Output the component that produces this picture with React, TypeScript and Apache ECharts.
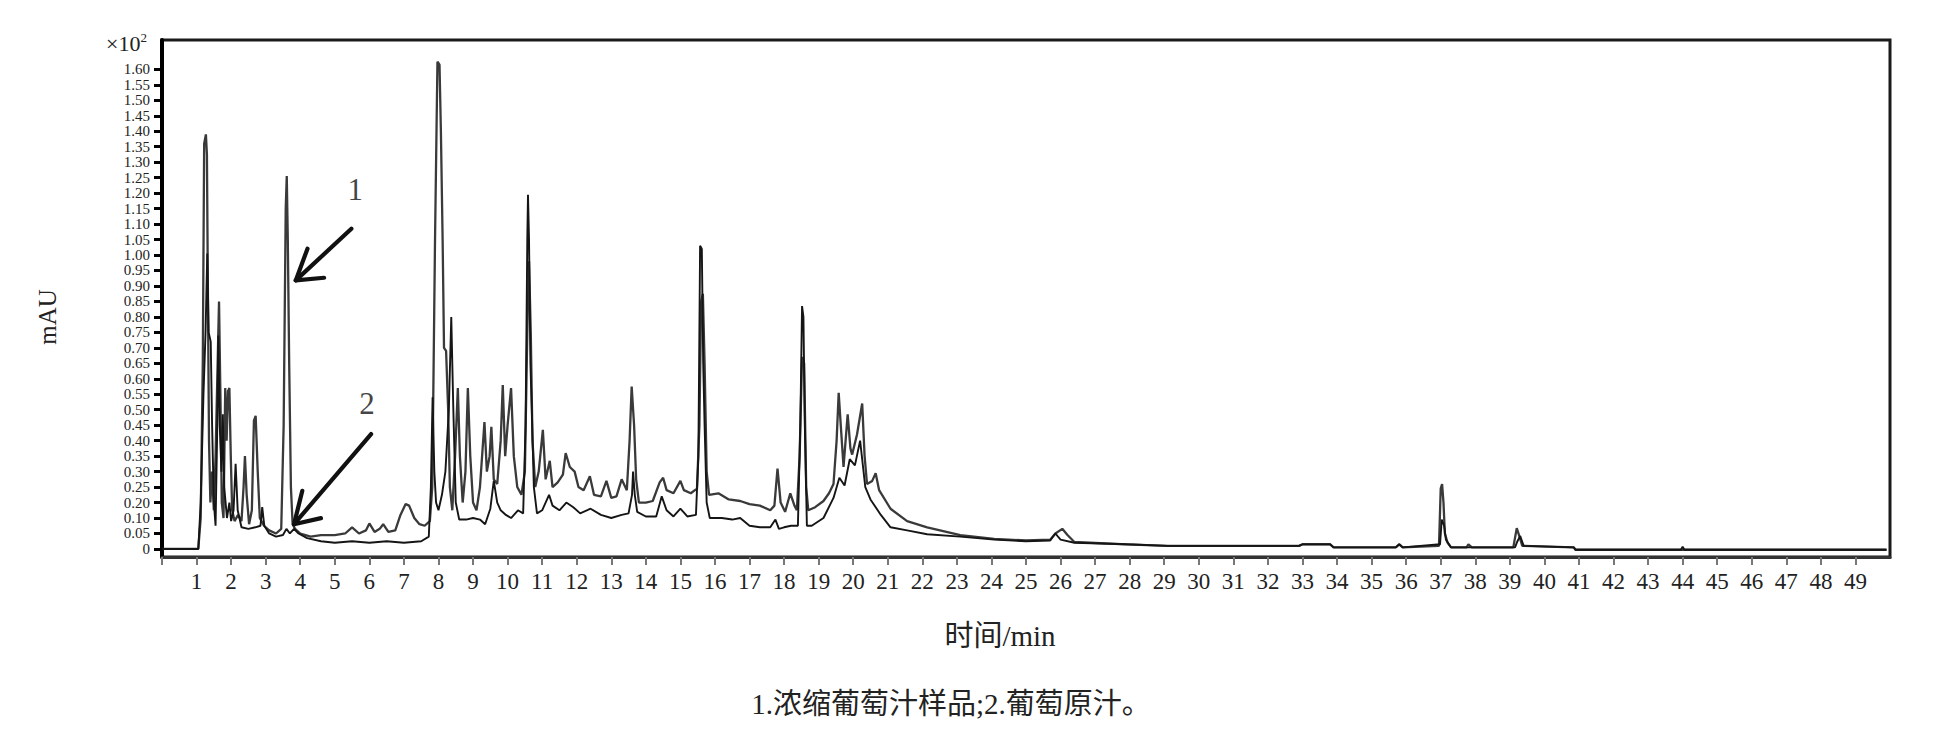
import React, { useEffect, useRef } from "react";
import * as echarts from "echarts";

// Y tick labels exactly as printed on the original axis (note: 0.15 is absent, ticks evenly spaced)
const Y_TICK_LABELS = [
  "0", "0.05", "0.10", "0.20", "0.25", "0.30", "0.35", "0.40", "0.45", "0.50",
  "0.55", "0.60", "0.65", "0.70", "0.75", "0.80", "0.85", "0.90", "0.95", "1.00",
  "1.05", "1.10", "1.15", "1.20", "1.25", "1.30", "1.35", "1.40", "1.45", "1.50",
  "1.55", "1.60",
];
// X tick labels (min)
const X_TICK_LABELS = [
  1, 2, 3, 4, 5, 6, 7, 8, 9, 10, 11, 12, 13, 14, 15, 16, 17, 18, 19, 20,
  21, 22, 23, 24, 25, 26, 27, 28, 29, 30, 31, 32, 33, 34, 35, 36, 37, 38, 39, 40,
  41, 42, 43, 44, 45, 46, 47, 48, 49,
];

// Traces: [time (min), signal in y-tick steps]
const TRACE_SAMPLE = [
  [0, 0], [1.05, 0], [1.12, 2], [1.18, 12], [1.22, 26.2], [1.27, 26.8], [1.3, 25.5], [1.33, 16], [1.36, 7], [1.4, 3],
  [1.45, 5], [1.5, 2.5], [1.55, 6], [1.62, 13], [1.65, 16], [1.69, 10], [1.73, 3], [1.78, 2], [1.83, 10.4], [1.87, 7],
  [1.91, 10.2], [1.95, 10.4], [1.99, 6], [2.03, 2.5], [2.1, 1.8], [2.2, 2.2], [2.3, 1.8], [2.36, 4], [2.4, 6], [2.45, 3.5],
  [2.52, 1.6], [2.6, 2.5], [2.66, 8.3], [2.71, 8.6], [2.77, 5], [2.83, 2], [2.95, 1.5], [3.1, 1.2], [3.3, 1.0], [3.45, 1.3],
  [3.52, 8], [3.58, 22], [3.61, 24.1], [3.64, 20], [3.68, 12], [3.73, 4], [3.78, 1.6], [3.85, 1.3], [4.0, 1.0], [4.3, 0.8],
  [4.6, 0.9], [5.0, 0.9], [5.3, 1.0], [5.5, 1.4], [5.7, 1.0], [5.9, 1.2], [6.0, 1.65], [6.15, 1.1], [6.3, 1.3], [6.4, 1.6],
  [6.55, 1.1], [6.75, 1.2], [6.9, 2.2], [7.05, 2.9], [7.15, 2.8], [7.3, 2.0], [7.45, 1.6], [7.6, 1.5], [7.75, 1.8], [7.82, 4],
  [7.9, 20], [7.97, 31.5], [8.03, 31.3], [8.07, 27], [8.12, 20], [8.16, 13], [8.22, 12.8], [8.28, 9], [8.33, 4], [8.4, 2.5],
  [8.48, 6], [8.56, 10.4], [8.62, 6], [8.7, 3], [8.78, 5], [8.85, 10.4], [8.92, 6], [9.0, 3], [9.1, 2.5], [9.2, 4],
  [9.33, 8.2], [9.4, 5], [9.48, 6], [9.53, 7.9], [9.6, 4.5], [9.7, 4.2], [9.8, 7], [9.86, 10.6], [9.93, 6], [10.0, 8],
  [10.1, 10.4], [10.18, 6], [10.28, 4], [10.4, 3.5], [10.5, 5], [10.57, 14], [10.62, 18.6], [10.67, 14], [10.72, 7], [10.8, 4],
  [10.9, 5], [11.02, 7.7], [11.1, 4.5], [11.22, 5.7], [11.3, 4], [11.45, 4.3], [11.6, 4.8], [11.68, 6.2], [11.8, 5.3], [11.94, 5.0],
  [12.05, 4.0], [12.2, 3.8], [12.38, 4.7], [12.5, 3.5], [12.7, 3.4], [12.86, 4.4], [13.0, 3.3], [13.15, 3.4], [13.3, 4.5], [13.45, 3.8],
  [13.53, 7], [13.59, 10.5], [13.66, 8], [13.72, 4.5], [13.8, 3.0], [14.0, 3.0], [14.2, 3.1], [14.4, 4.3], [14.5, 4.6], [14.6, 3.8],
  [14.8, 3.6], [15.0, 4.4], [15.1, 3.8], [15.3, 3.6], [15.48, 3.9], [15.55, 8], [15.6, 16], [15.65, 16.5], [15.7, 12], [15.76, 5],
  [15.83, 3.5], [16.1, 3.6], [16.4, 3.2], [16.73, 3.1], [17.0, 2.9], [17.3, 2.8], [17.6, 2.5], [17.72, 2.8], [17.81, 5.2], [17.9, 3.0],
  [18.03, 2.4], [18.18, 3.6], [18.3, 2.8], [18.37, 2.5], [18.45, 6], [18.52, 12.4], [18.58, 12], [18.64, 4], [18.7, 2.5], [18.9, 2.7],
  [19.14, 3.1], [19.3, 3.6], [19.43, 4.2], [19.52, 7], [19.58, 10.1], [19.64, 8], [19.72, 5.3], [19.84, 8.7], [19.92, 6.5], [19.97, 6.1],
  [20.11, 7.4], [20.26, 9.4], [20.33, 6], [20.4, 4.2], [20.55, 4.4], [20.65, 4.9], [20.75, 3.8], [21.08, 2.6], [21.56, 1.8], [22.14, 1.4],
  [23.1, 0.9], [24.08, 0.65], [25.0, 0.55], [25.7, 0.6], [25.85, 1.0], [26.05, 1.3], [26.2, 0.9], [26.4, 0.45], [27.9, 0.3], [29.1, 0.2],
  [31.8, 0.2], [32.9, 0.2], [33.0, 0.3], [33.8, 0.3], [33.9, 0.1], [35.7, 0.1], [35.8, 0.3], [35.9, 0.1], [36.95, 0.2], [37.0, 3.9],
  [37.04, 4.2], [37.08, 3.0], [37.12, 1.0], [37.2, 0.4], [37.3, 0.1], [37.75, 0.1], [37.8, 0.3], [37.9, 0.1], [39.1, 0.1], [39.2, 1.34],
  [39.28, 0.8], [39.36, 0.2], [40.85, 0.1], [40.9, -0.05], [49.9, -0.05],
];

const TRACE_RAW = [
  [0, 0], [1.05, 0], [1.12, 3], [1.2, 10], [1.26, 14], [1.31, 19.1], [1.35, 14], [1.41, 13.4], [1.45, 8], [1.5, 3],
  [1.55, 1.5], [1.6, 8], [1.63, 13.8], [1.67, 8], [1.72, 5], [1.76, 8.7], [1.8, 4], [1.88, 2], [1.95, 3], [2.0, 1.8],
  [2.07, 2.5], [2.13, 5.5], [2.19, 2.5], [2.3, 1.4], [2.5, 1.3], [2.7, 1.4], [2.85, 1.5], [2.9, 2.7], [2.96, 1.5], [3.1, 1.0],
  [3.3, 0.8], [3.5, 0.9], [3.6, 1.3], [3.7, 1.0], [3.82, 1.3], [3.95, 1.0], [4.2, 0.7], [4.6, 0.5], [5.0, 0.4], [5.5, 0.5],
  [6.0, 0.4], [6.5, 0.5], [7.0, 0.4], [7.5, 0.5], [7.72, 0.8], [7.78, 4], [7.83, 9.8], [7.88, 5], [7.93, 3], [8.0, 2.5],
  [8.1, 3.5], [8.2, 5], [8.3, 9], [8.37, 15.0], [8.43, 9], [8.5, 3], [8.6, 1.9], [8.8, 1.9], [9.0, 2.0], [9.2, 1.9],
  [9.35, 1.6], [9.5, 2.6], [9.6, 4.4], [9.7, 3.0], [9.8, 2.5], [9.95, 2.2], [10.1, 2.0], [10.3, 2.5], [10.45, 2.3], [10.52, 8],
  [10.57, 20], [10.59, 22.9], [10.62, 20], [10.66, 12], [10.7, 9], [10.76, 4], [10.85, 2.3], [11.0, 2.5], [11.2, 3.5], [11.3, 2.8],
  [11.5, 2.5], [11.7, 3.0], [11.9, 2.7], [12.1, 2.3], [12.4, 2.6], [12.7, 2.2], [13.0, 2.0], [13.3, 2.2], [13.5, 2.3], [13.6, 3.5],
  [13.63, 5.0], [13.68, 3.5], [13.75, 2.4], [14.0, 2.1], [14.3, 2.1], [14.46, 3.4], [14.6, 2.5], [14.8, 2.1], [15.0, 2.6], [15.2, 2.1],
  [15.45, 2.2], [15.52, 6], [15.57, 19.6], [15.62, 19.4], [15.66, 12], [15.7, 8], [15.76, 3], [15.85, 2.0], [16.2, 2.0], [16.5, 1.9],
  [16.73, 2.0], [17.0, 1.5], [17.3, 1.4], [17.6, 1.4], [17.75, 1.9], [17.85, 1.3], [18.0, 1.4], [18.2, 1.5], [18.4, 1.5], [18.47, 8],
  [18.52, 15.7], [18.56, 15], [18.6, 8], [18.66, 1.5], [18.8, 1.5], [19.14, 2.0], [19.43, 3.3], [19.6, 4.6], [19.75, 4.1], [19.9, 5.8],
  [20.05, 5.4], [20.2, 7.0], [20.35, 4.0], [20.5, 3.2], [20.8, 2.2], [21.08, 1.4], [21.56, 1.2], [22.14, 0.95], [23.1, 0.8], [24.08, 0.6],
  [25.0, 0.5], [25.7, 0.55], [25.85, 1.0], [26.0, 0.6], [26.4, 0.4], [27.9, 0.3], [29.1, 0.2], [31.8, 0.2], [32.9, 0.2], [33.0, 0.3],
  [33.8, 0.3], [33.9, 0.1], [35.7, 0.1], [35.8, 0.3], [35.9, 0.1], [36.98, 0.3], [37.03, 1.9], [37.1, 1.5], [37.15, 0.6], [37.3, 0.1],
  [39.15, 0.1], [39.22, 0.5], [39.3, 0.84], [39.4, 0.2], [40.85, 0.1], [40.9, -0.05], [43.95, -0.05], [44.0, 0.15], [44.05, -0.05], [49.9, -0.05],
];

// Annotation arrows (data coordinates)
const ARROW1_SHAFT = [[5.48, 20.7], [3.87, 17.36]];
const ARROW1_HEAD = [[4.21, 19.41], [3.87, 17.36], [4.69, 17.53]];
const ARROW2_SHAFT = [[6.05, 7.43], [3.82, 1.6]];
const ARROW2_HEAD = [[4.06, 3.76], [3.82, 1.6], [4.6, 1.99]];
const ANNOTATION_LABELS = [
  { name: "1", value: [5.59, 23.25] },
  { name: "2", value: [5.93, 9.39] },
];

const SERIF = "'Liberation Serif', 'Times New Roman', serif";
const MIXED = "'Liberation Serif', 'Noto Sans CJK SC', serif";

export default function App() {
  const ref = useRef<HTMLDivElement>(null);
  useEffect(() => {
    document.body.style.margin = "0";
    const chart = echarts.init(ref.current!, null, { renderer: "svg" });
    const yTickPos = Y_TICK_LABELS.map((_, i) => i);
    const xTickPos = [0, ...X_TICK_LABELS];
    const arrowLine = (data: number[][]) => ({
      type: "line",
      data,
      symbol: "none",
      showSymbol: false,
      silent: true,
      z: 6,
      lineStyle: { color: "#111", width: 4.2, cap: "round", join: "round" },
    });
    chart.setOption({
      animation: false,
      backgroundColor: "#fff",
      grid: {
        left: 162,
        right: 51,
        top: 40,
        bottom: 176,
        show: true,
        borderColor: "#1a1a1a",
        borderWidth: 3,
        containLabel: false,
      },
      xAxis: {
        type: "value",
        min: 0,
        max: 50,
        axisLine: { show: true, onZero: false, lineStyle: { color: "#333", width: 3 } },
        axisTick: { show: true, customValues: xTickPos, length: 8, lineStyle: { color: "#777", width: 2 } },
        axisLabel: {
          customValues: X_TICK_LABELS,
          fontFamily: SERIF,
          fontSize: 23,
          color: "#222",
          margin: 13,
        },
        splitLine: { show: false },
      },
      yAxis: {
        type: "value",
        min: -0.52,
        max: 32.9,
        axisLine: { show: true, onZero: false, lineStyle: { color: "#000", width: 4 } },
        axisTick: { show: true, customValues: yTickPos, length: 8, lineStyle: { color: "#000", width: 3 } },
        axisLabel: {
          customValues: yTickPos,
          formatter: (v: number) => Y_TICK_LABELS[Math.round(v)] ?? "",
          fontFamily: SERIF,
          fontSize: 15,
          lineHeight: 15,
          color: "#222",
          margin: 12,
          showMinLabel: true,
          showMaxLabel: true,
          hideOverlap: false,
        },
        splitLine: { show: false },
      },
      series: [
        {
          name: "浓缩葡萄汁样品",
          type: "line",
          data: TRACE_SAMPLE,
          symbol: "none",
          showSymbol: false,
          z: 3,
          lineStyle: { color: "#3a3a3a", width: 2.3 },
        },
        {
          name: "葡萄原汁",
          type: "line",
          data: TRACE_RAW,
          symbol: "none",
          showSymbol: false,
          z: 4,
          lineStyle: { color: "#151515", width: 1.9 },
        },
        arrowLine(ARROW1_SHAFT),
        arrowLine(ARROW1_HEAD),
        arrowLine(ARROW2_SHAFT),
        arrowLine(ARROW2_HEAD),
        {
          type: "scatter",
          data: ANNOTATION_LABELS,
          symbolSize: 1,
          silent: true,
          itemStyle: { color: "rgba(0,0,0,0)" },
          label: {
            show: true,
            position: "inside",
            formatter: "{b}",
            fontFamily: SERIF,
            fontSize: 31,
            color: "#111",
          },
          z: 7,
        },
      ],
      graphic: [
        {
          type: "text",
          x: 147,
          y: 43,
          style: {
            text: "×10{sup|2}",
            fontFamily: SERIF,
            fontSize: 22,
            fill: "#222",
            align: "right",
            verticalAlign: "middle",
            rich: {
              sup: { fontFamily: SERIF, fontSize: 13, fill: "#222", padding: [0, 0, 12, 0] },
            },
          },
        },
        {
          type: "text",
          x: 47,
          y: 317,
          rotation: Math.PI / 2,
          style: { text: "mAU", fontFamily: SERIF, fontSize: 25, fill: "#222", align: "center", verticalAlign: "middle" },
        },
        {
          type: "text",
          x: 1000,
          y: 636,
          style: { text: "时间/min", fontFamily: MIXED, fontSize: 29, fill: "#222", align: "center", verticalAlign: "middle" },
        },
        {
          type: "text",
          x: 951,
          y: 704,
          style: {
            text: "1.浓缩葡萄汁样品;2.葡萄原汁。",
            fontFamily: MIXED,
            fontSize: 29,
            fill: "#222",
            align: "center",
            verticalAlign: "middle",
          },
        },
      ],
    });
    return () => chart.dispose();
  }, []);
  return <div ref={ref} style={{ width: 1941, height: 733 }} />;
}
